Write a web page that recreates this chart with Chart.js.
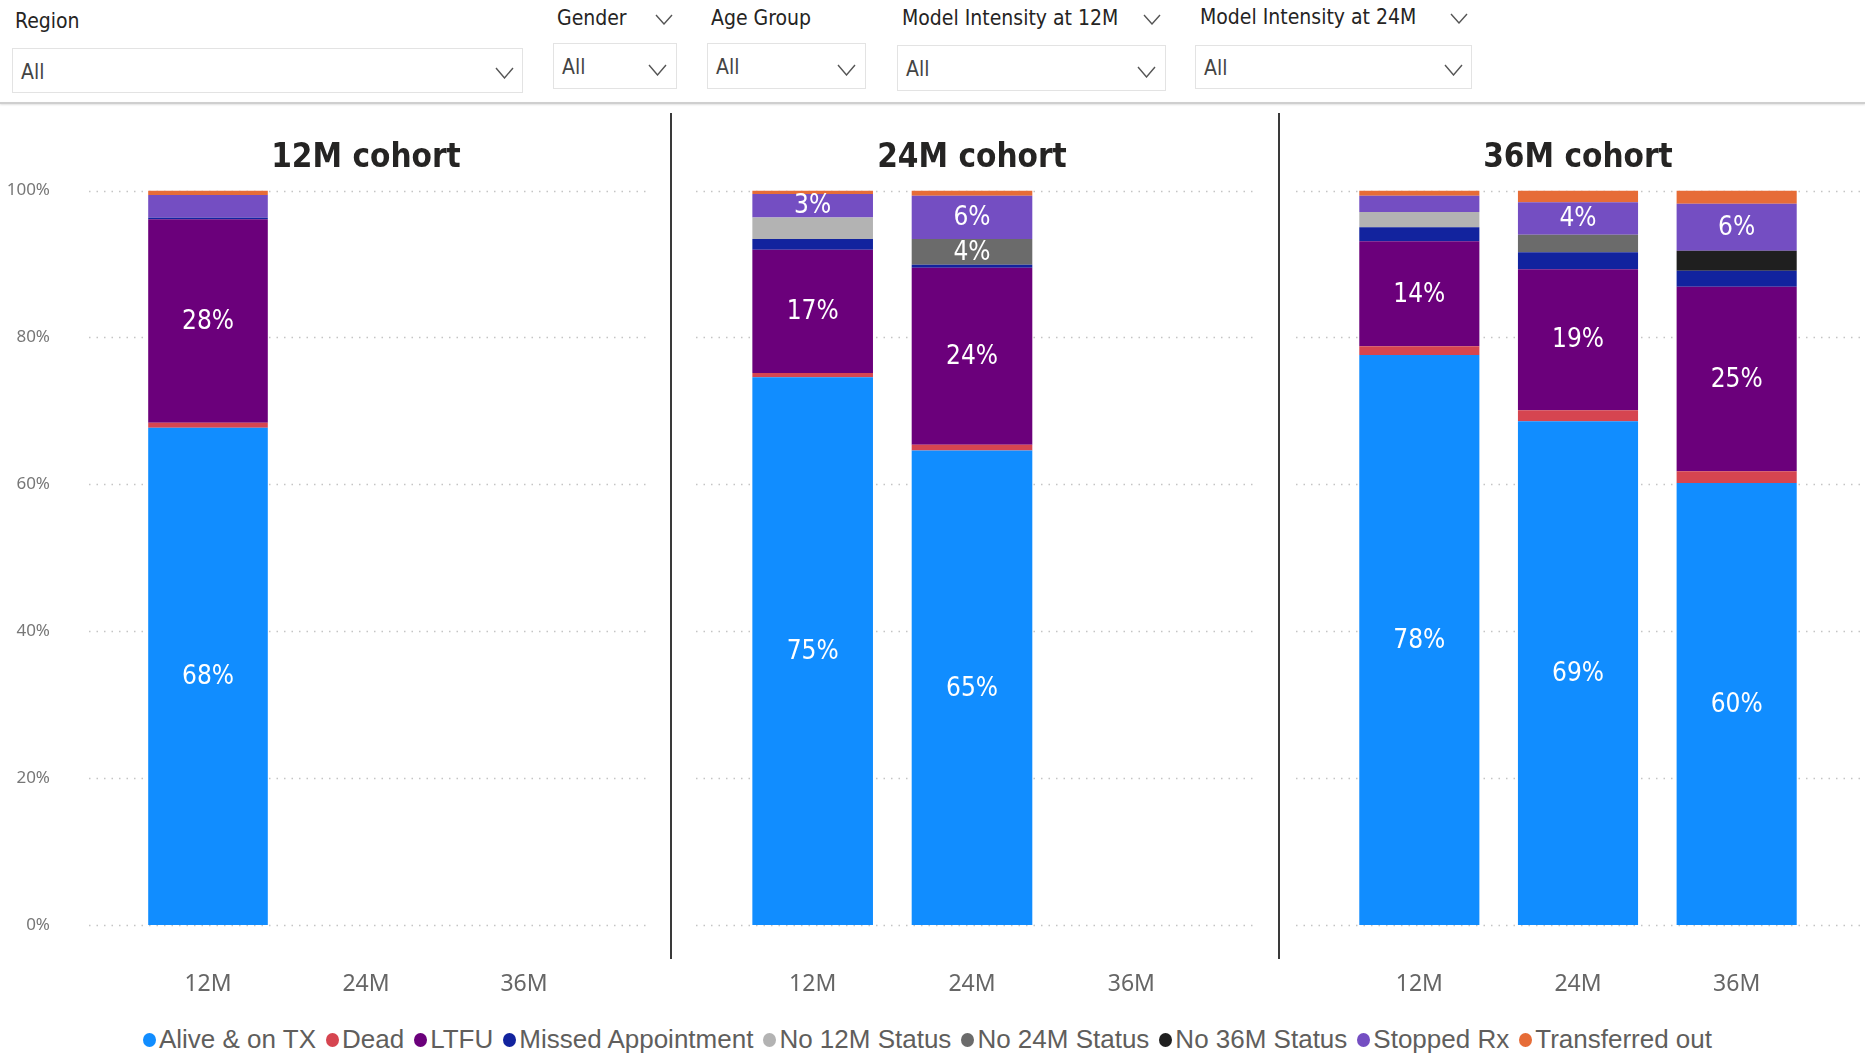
<!DOCTYPE html>
<html>
<head>
<meta charset="utf-8">
<script src="https://cdn.jsdelivr.net/npm/chart.js@4.4.1/dist/chart.umd.min.js"></script>
<style>
  html,body{margin:0;padding:0;background:#fff;}
  body{width:1865px;height:1055px;position:relative;overflow:hidden;font-family:'DejaVu Sans Condensed',sans-serif;}
  .lbl{position:absolute;font-size:21px;color:#252423;line-height:1;}
  .box{position:absolute;border:1px solid #e3e3e3;box-sizing:border-box;background:#fff;}
  .box span{position:absolute;left:8px;top:50%;transform:translateY(-45%);font-size:21px;color:#444;}
  .chev{position:absolute;}
  .sep{position:absolute;left:0;top:102px;width:1865px;height:2px;background:#cfcfcf;box-shadow:0 1px 2px rgba(0,0,0,0.12);}
  .vdiv{position:absolute;top:113px;height:846px;width:2px;background:#3a3a3a;}
  canvas{position:absolute;}
  #legend{position:absolute;left:0;width:1865px;top:1024px;display:flex;justify-content:center;align-items:center;font-family:'Liberation Sans',sans-serif;font-size:26px;color:#605E5C;white-space:nowrap;}
  #legend .it{display:flex;align-items:center;margin-right:10px;}
  #legend .dot{width:13px;height:14px;border-radius:50%;margin-right:3px;}
</style>
</head>
<body>
<div class="sep"></div>
<div id="slicers"></div>
<div class="vdiv" style="left:670px"></div>
<div class="vdiv" style="left:1278px"></div>
<canvas id="c0" width="671" height="910" style="left:0px;top:101px;width:671px;height:910px"></canvas>
<canvas id="c1" width="608" height="910" style="left:671px;top:101px;width:608px;height:910px"></canvas>
<canvas id="c2" width="586" height="910" style="left:1279px;top:101px;width:586px;height:910px"></canvas>
<div id="legend"></div>
<script>
// ---- data ----
const categories = ['12M', '24M', '36M'];
const cohorts = ['12M cohort', '24M cohort', '36M cohort'];
const yTicks = [0, 20, 40, 60, 80, 100];
const seriesNames = ['Alive & on TX', 'Dead', 'LTFU', 'Missed Appointment', 'No 12M Status', 'No 24M Status', 'No 36M Status', 'Stopped Rx', 'Transferred out'];
const seriesColors = ['#118DFF', '#D64550', '#6B007B', '#12239E', '#B3B3B3', '#6B6B6B', '#1F1F1F', '#744EC2', '#E66C37'];
// values per cohort: [12M, 24M, 36M]
const aliveOnTx   = [[67.7, null, null], [74.6, 64.6, null], [77.6, 68.6, 60.2]];
const dead        = [[0.7, null, null],  [0.55, 0.8, null],  [1.2, 1.5, 1.6]];
const ltfu        = [[27.7, null, null], [16.8, 24.1, null], [14.3, 19.2, 25.1]];
const missedAppt  = [[0.2, null, null],  [1.45, 0.4, null],  [1.9, 2.3, 2.2]];
const no12M       = [[0, null, null],    [2.95, 0, null],    [2.1, 0, 0]];
const no24M       = [[0, null, null],    [0, 3.5, null],     [0, 2.4, 0]];
const no36M       = [[0, null, null],    [0, 0, null],       [0, 0, 2.7]];
const stoppedRx   = [[3.1, null, null],  [3.2, 5.9, null],   [2.2, 4.4, 6.4]];
const transferred = [[0.6, null, null],  [0.45, 0.7, null],  [0.7, 1.6, 1.8]];
const seriesValues = [aliveOnTx, dead, ltfu, missedAppt, no12M, no24M, no36M, stoppedRx, transferred];
const slicerLabels = ['Region', 'Gender', 'Age Group', 'Model Intensity at 12M', 'Model Intensity at 24M'];
const slicerValues = ['All', 'All', 'All', 'All', 'All'];

// ---- slicers (layout) ----
const chevSvg = (w, h) => `<svg width="${w}" height="${h}" viewBox="0 0 ${w} ${h}"><polyline points="1,1 ${w/2},${h-1} ${w-1},1" fill="none" stroke="#555" stroke-width="1.4"/></svg>`;
const slLayout = [
  {lx:15, ly:11, lchev:null, bx:12, by:48, bw:511, bh:45, cx:495, cy:64},
  {lx:557, ly:8, lchev:[655,10], bx:553, by:43, bw:124, bh:46, cx:648, cy:61},
  {lx:711, ly:8, lchev:null, bx:707, by:43, bw:159, bh:46, cx:837, cy:61},
  {lx:902, ly:8, lchev:[1143,10], bx:897, by:45, bw:269, bh:46, cx:1137, cy:63},
  {lx:1200, ly:7, lchev:[1450,9], bx:1195, by:45, bw:277, bh:44, cx:1444, cy:61}
];
let sh = '';
slicerLabels.forEach((t, i) => {
  const L = slLayout[i];
  sh += `<div class="lbl" style="left:${L.lx}px;top:${L.ly}px">${t}</div>`;
  if (L.lchev) sh += `<div class="chev" style="left:${L.lchev[0]}px;top:${L.lchev[1]}px">${chevSvg(18,11)}</div>`;
  sh += `<div class="box" style="left:${L.bx}px;top:${L.by}px;width:${L.bw}px;height:${L.bh}px"><span>${slicerValues[i]}</span></div>`;
  sh += `<div class="chev" style="left:${L.cx}px;top:${L.cy}px">${chevSvg(19,12)}</div>`;
});
document.getElementById('slicers').innerHTML = sh;

// ---- legend ----
document.getElementById('legend').innerHTML = seriesNames.map((n, i) =>
  `<div class="it"><div class="dot" style="background:${seriesColors[i]}"></div>${n.replace('&','&amp;')}</div>`).join('');

// ---- plugins ----
const dottedGrid = {
  id: 'dottedGrid',
  beforeDatasetsDraw(chart, args, opts) {
    const y = chart.scales.y, ctx = chart.ctx;
    ctx.save();
    ctx.strokeStyle = '#c4c4c4';
    ctx.lineWidth = 1.3;
    ctx.setLineDash([1.5, 6]);
    yTicks.forEach(v => {
      const py = Math.round(y.getPixelForValue(v)) + 0.5;
      ctx.beginPath(); ctx.moveTo(opts.from, py); ctx.lineTo(opts.to, py); ctx.stroke();
    });
    ctx.restore();
  }
};
const segLabels = {
  id: 'segLabels',
  afterDatasetsDraw(chart) {
    const ctx = chart.ctx;
    ctx.save();
    ctx.fillStyle = '#fff';
    ctx.font = "26px 'DejaVu Sans Condensed', sans-serif";
    ctx.textAlign = 'center'; ctx.textBaseline = 'middle';
    chart.data.datasets.forEach((ds, di) => {
      const meta = chart.getDatasetMeta(di);
      meta.data.forEach((el, i) => {
        const v = ds.data[i];
        if (v == null || v < 3.2) return;
        ctx.fillText(Math.round(v) + '%', el.x, (el.y + el.base) / 2 + 1);
      });
    });
    ctx.restore();
  }
};

const panelCfg = [
  {pad:{left:7, right:68}, grid:[89, 648], showY:true},
  {pad:{left:62, right:68}, grid:[25, 584], showY:false},
  {pad:{left:61, right:49}, grid:[17, 582], showY:false}
];

cohorts.forEach((title, p) => {
  const P = panelCfg[p];
  new Chart(document.getElementById('c' + p), {
    type: 'bar',
    data: {
      labels: categories,
      datasets: seriesNames.map((n, s) => ({
        label: n,
        data: seriesValues[s][p],
        backgroundColor: seriesColors[s],
        borderWidth: 0,
        categoryPercentage: 1,
        barPercentage: 0.757
      }))
    },
    options: {
      responsive: false,
      animation: false,
      devicePixelRatio: 1,
      layout: {padding: {left: P.pad.left, right: P.pad.right, top: 0, bottom: 0}},
      plugins: {
        legend: {display: false},
        tooltip: {enabled: false},
        title: {
          display: true, text: title, fullSize: false,
          color: '#252423',
          font: {family: "'DejaVu Sans Condensed', sans-serif", size: 33, weight: 'bold'},
          padding: {top: 38, bottom: 12}
        },
        dottedGrid: {from: P.grid[0], to: P.grid[1]}
      },
      scales: {
        x: {
          stacked: true,
          grid: {display: false, drawTicks: false},
          border: {display: false},
          ticks: {color: '#666', font: {family: "'Noto Sans', sans-serif", size: 23}, padding: 46},
          afterFit: s => { s.height = 86; s.paddingLeft = 0; s.paddingRight = 0; }
        },
        y: {
          stacked: true, min: 0, max: 100,
          display: P.showY,
          grid: {display: false, drawTicks: false},
          border: {display: false},
          ticks: {stepSize: 20, color: '#777', font: {family: "'Noto Sans', sans-serif", size: 17}, padding: 79, callback: v => v + '%'},
          afterFit: s => { if (P.showY) s.width = 122; s.paddingTop = 0; s.paddingBottom = 0; }
        }
      }
    },
    plugins: [dottedGrid, segLabels]
  });
});
</script>
</body>
</html>
